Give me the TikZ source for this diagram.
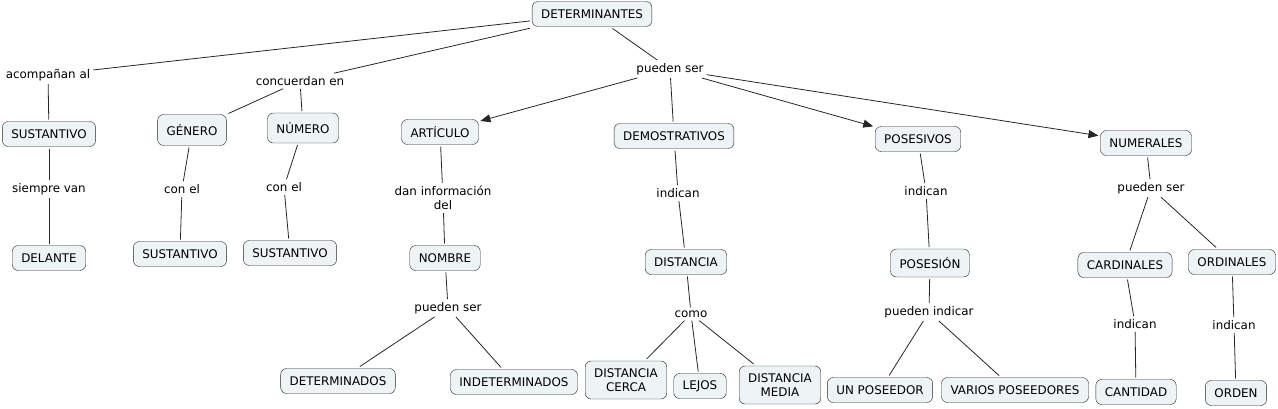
\documentclass[tikz,border=0pt]{standalone}
\usepackage{fontspec}
\setmainfont{DejaVu Sans}
\usetikzlibrary{arrows.meta,positioning}
\definecolor{conceptfill}{RGB}{238,243,245}

\begin{document}
\begin{tikzpicture}[x=1pt, y=-1pt, font=\fontsize{11.9}{14}\selectfont]
% Define styles
\tikzstyle{concept} = [rectangle, rounded corners=6pt, inner xsep=9pt, inner ysep=6pt, minimum height=25pt, align=center, draw=black!85, fill=conceptfill, outer sep=2pt]
\tikzstyle{phrase} = [inner sep=3pt, align=center]
\tikzstyle{link} = [line width=0.8pt, draw=black!85]
\tikzstyle{arrow} = [link, -{Triangle[length=10pt, width=8pt]}]

\useasboundingbox (0,0) rectangle (1278,408);

% Draw nodes
\node (det) [concept] at (592,14) {DETERMINANTES};
\node (acomp) [phrase] at (48,75) {acompañan al};
\node (concuerdan) [phrase] at (300,81) {concuerdan en};
\node (pueden) [phrase] at (670,69) {pueden ser};

\node (sust) [concept] at (49,134) {SUSTANTIVO};
\node (siempre) [phrase, below of=sust, node distance=55pt] {siempre van};
\node (delante) [concept, below of=siempre, node distance=69pt] {DELANTE};

\node (genero) [concept, minimum height=31pt] at (192,130) {GÉNERO};
\node (conelg) [phrase, below of=genero, node distance=59pt, xshift=-10pt] {con el};
\node (sustg) [concept, below of=conelg, node distance=65pt, xshift=-2pt] {SUSTANTIVO};

\node (numero) [concept, minimum height=30pt] at (303,128) {NÚMERO};
\node (coneln) [phrase, below of=numero, node distance=59pt, xshift=-19pt] {con el};
\node (sustn) [concept, below of=coneln, node distance=66pt, xshift=6pt] {SUSTANTIVO};

\node (articulo) [concept] at (440,132) {ARTÍCULO};
\node (daninfo) [phrase, below of=articulo, node distance=66pt, xshift=3pt] {dan información\\del};
\node (nombre) [concept, below of=daninfo, node distance=60pt, xshift=2pt] {NOMBRE};
\node (puedenart) [phrase, below of=nombre, node distance=50pt, xshift=3pt] {pueden ser};
\node (determ) [concept] at (338,381) {DETERMINADOS};
\node (indeterm) [concept] at (514,382) {INDETERMINADOS};

\node (demos) [concept] at (674,136) {DEMOSTRATIVOS};
\node (indicand) [phrase, below of=demos, node distance=57pt, xshift=4pt] {indican};
\node (distancia) [concept, below of=indicand, node distance=69pt, xshift=8pt] {DISTANCIA};
\node (como) [phrase, below of=distancia, node distance=52pt, xshift=5pt] {como};
\node (cerca) [concept, minimum height=38pt] at (626,380) {DISTANCIA\\CERCA};
\node (lejos) [concept] at (700,386) {LEJOS};
\node (media) [concept, minimum height=38pt] at (780,385) {DISTANCIA\\MEDIA};

\node (posesivos) [concept] at (918,139) {POSESIVOS};
\node (indicanp) [phrase, below of=posesivos, node distance=52pt, xshift=8pt] {indican};
\node (posesion) [concept, minimum height=28pt] at (930,263) {POSESIÓN};
\node (puedenind) [phrase, below of=posesion, node distance=49pt, xshift=-1pt] {pueden indicar};
\node (unpos) [concept] at (880,390) {UN POSEEDOR};
\node (varios) [concept] at (1015,390) {VARIOS POSEEDORES};

\node (numerales) [concept] at (1146,143) {NUMERALES};
\node (puedennum) [phrase, below of=numerales, node distance=45pt, xshift=5pt] {pueden ser};
\node (cardinales) [concept] at (1125,265) {CARDINALES};
\node (ordinales) [concept] at (1232,262) {ORDINALES};
\node (indicanc) [phrase, below of=cardinales, node distance=59pt, xshift=10pt] {indican};
\node (cantidad) [concept, below of=indicanc, node distance=68pt, xshift=1pt] {CANTIDAD};
\node (indicano) [phrase, below of=ordinales, node distance=63pt, xshift=2pt] {indican};
\node (orden) [concept, below of=indicano, node distance=68pt, xshift=2pt] {ORDEN};

% Draw connectors
\draw [link] (det) -- (acomp);
\draw [link] (acomp) -- (sust);
\draw [link] (sust) -- (siempre);
\draw [link] (siempre) -- (delante);

\draw [link] (det) -- (concuerdan);
\draw [link] (concuerdan) -- (genero);
\draw [link] (concuerdan) -- (numero);
\draw [link] (genero) -- (conelg);
\draw [link] (conelg) -- (sustg);
\draw [link] (numero) -- (coneln);
\draw [link] (coneln) -- (sustn);

\draw [link] (det) -- (pueden);
\draw [arrow] (pueden) -- (articulo);
\draw [link] (pueden) -- (demos);
\draw [arrow] (pueden) -- (posesivos);
\draw [arrow] (pueden) -- (numerales);

\draw [link] (articulo) -- (daninfo);
\draw [link] (daninfo) -- (nombre);
\draw [link] (nombre) -- (puedenart);
\draw [link] (puedenart) -- (determ);
\draw [link] (puedenart) -- (indeterm);

\draw [link] (demos) -- (indicand);
\draw [link] (indicand) -- (distancia);
\draw [link] (distancia) -- (como);
\draw [link] (como) -- (cerca);
\draw [link] (como) -- (lejos);
\draw [link] (como) -- (media);

\draw [link] (posesivos) -- (indicanp);
\draw [link] (indicanp) -- (posesion);
\draw [link] (posesion) -- (puedenind);
\draw [link] (puedenind) -- (unpos);
\draw [link] (puedenind) -- (varios);

\draw [link] (numerales) -- (puedennum);
\draw [link] (puedennum) -- (cardinales);
\draw [link] (puedennum) -- (ordinales);
\draw [link] (cardinales) -- (indicanc);
\draw [link] (indicanc) -- (cantidad);
\draw [link] (ordinales) -- (indicano);
\draw [link] (indicano) -- (orden);
\end{tikzpicture}
\end{document}
